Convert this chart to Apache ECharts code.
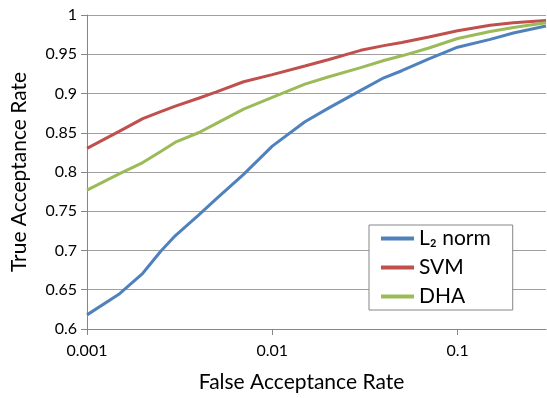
<!DOCTYPE html>
<html>
<head>
<meta charset="utf-8">
<script src="https://cdn.jsdelivr.net/npm/echarts@6/dist/echarts.min.js"></script>
<style>
  html, body { margin: 0; padding: 0; background: #fff; }
  #chart { width: 547px; height: 398px; }
</style>
</head>
<body>
<div id="chart"></div>
<script>
// false acceptance rate (x, log axis)
const far = [0.001, 0.0015, 0.002, 0.0025, 0.003, 0.004, 0.005, 0.007, 0.01, 0.015, 0.02, 0.03, 0.04, 0.05, 0.07, 0.1, 0.15, 0.2, 0.3]
// true acceptance rate per method
const l2Norm = [0.618, 0.645, 0.671, 0.699, 0.719, 0.745, 0.766, 0.797, 0.833, 0.864, 0.881, 0.904, 0.920, 0.929, 0.944, 0.959, 0.969, 0.977, 0.986]
const svm    = [0.830, 0.852, 0.868, 0.877, 0.884, 0.894, 0.902, 0.915, 0.924, 0.935, 0.943, 0.955, 0.961, 0.965, 0.972, 0.980, 0.987, 0.990, 0.993]
const dha    = [0.777, 0.798, 0.812, 0.826, 0.838, 0.850, 0.862, 0.880, 0.895, 0.912, 0.921, 0.933, 0.942, 0.948, 0.958, 0.970, 0.979, 0.984, 0.990]
const seriesNames = ['L₂ norm', 'SVM', 'DHA']

const pair = ys => far.map((x, i) => [x, ys[i]])
const font = 'Lato'

const chart = echarts.init(document.getElementById('chart'))
chart.setOption({
  animation: false,
  color: ['#4F81BD', '#C0504D', '#9BBB59'],
  grid: { left: 87, right: 1, top: 15, bottom: 61 },
  legend: {
    orient: 'vertical',
    left: 369,
    top: 225,
    data: seriesNames,
    icon: 'rect',
    itemWidth: 33,
    itemHeight: 4,
    itemGap: 8,
    padding: [3, 22, 3, 12],
    backgroundColor: '#fff',
    borderColor: '#868686',
    borderWidth: 1,
    borderRadius: 0,
    textStyle: { fontFamily: font, fontSize: 21, color: '#000' },
  },
  xAxis: {
    type: 'log',
    logBase: 10,
    min: 0.001,
    max: 0.3,
    name: 'False Acceptance Rate',
    nameLocation: 'middle',
    nameGap: 43,
    nameTextStyle: { fontFamily: font, fontSize: 21, color: '#000', padding: [0, 30, 0, 0] },
    axisLine: { show: true, lineStyle: { color: '#868686', width: 1 } },
    axisTick: { show: true, length: 6, lineStyle: { color: '#868686' } },
    axisLabel: {
      fontFamily: font, fontSize: 16, color: '#000', margin: 14,
      showMaxLabel: false,
      formatter: v => (v > 0.15 ? '' : String(+v.toPrecision(3))),
    },
    splitLine: { show: false },
    minorTick: { show: false },
  },
  yAxis: {
    type: 'value',
    min: 0.6,
    max: 1,
    interval: 0.05,
    name: 'True Acceptance Rate',
    nameLocation: 'middle',
    nameGap: 57,
    nameTextStyle: { fontFamily: font, fontSize: 21, color: '#000' },
    axisLine: { show: true, lineStyle: { color: '#868686', width: 1 } },
    axisTick: { show: true, length: 6, lineStyle: { color: '#868686' } },
    axisLabel: {
      fontFamily: font, fontSize: 16, color: '#000', margin: 10,
      formatter: v => String(+v.toFixed(2)),
    },
    splitLine: { show: true, lineStyle: { color: '#A0A0A0', width: 1 } },
  },
  series: [
    { name: seriesNames[0], type: 'line', data: pair(l2Norm), showSymbol: false, symbol: 'none', lineStyle: { width: 3 } },
    { name: seriesNames[1], type: 'line', data: pair(svm), showSymbol: false, symbol: 'none', lineStyle: { width: 3 } },
    { name: seriesNames[2], type: 'line', data: pair(dha), showSymbol: false, symbol: 'none', lineStyle: { width: 3 } },
  ],
})
</script>
</body>
</html>
